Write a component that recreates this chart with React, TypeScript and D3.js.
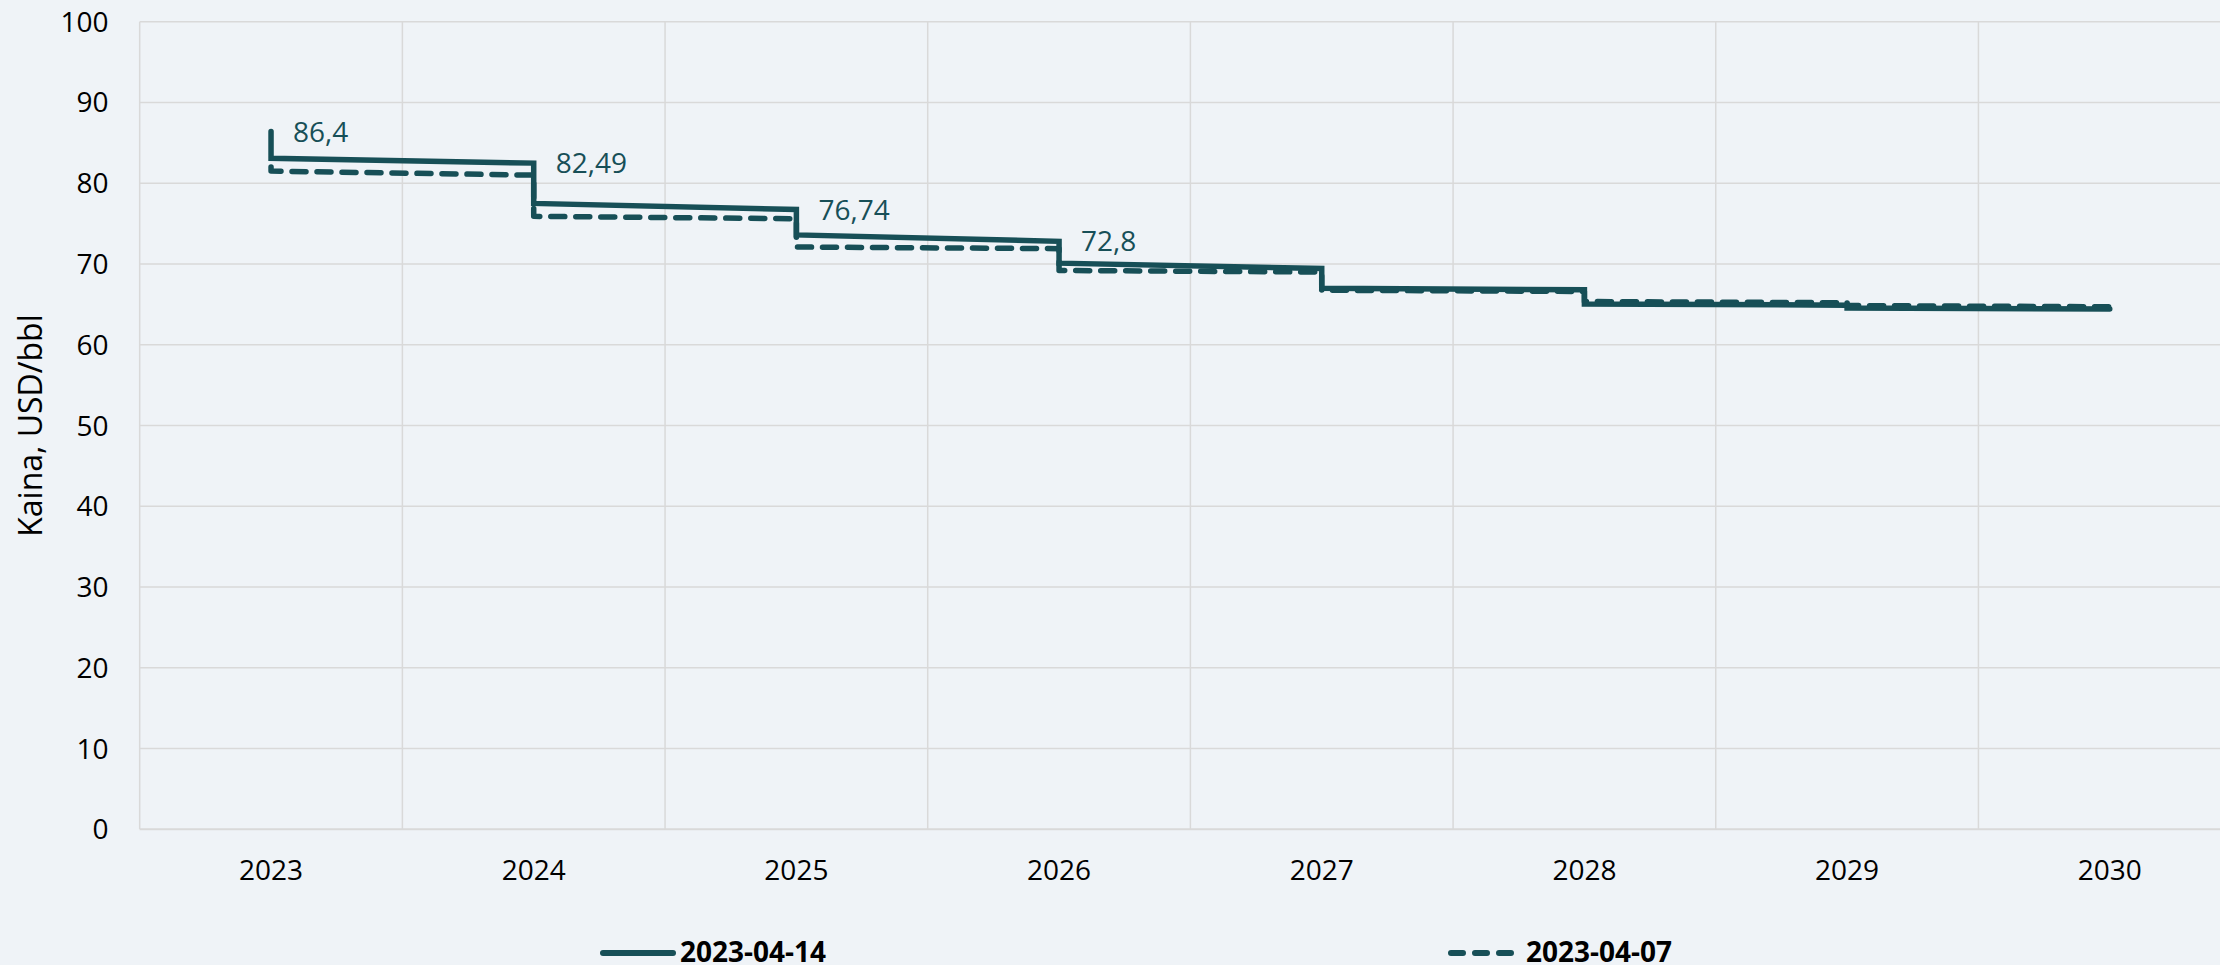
import React from "react";
import * as d3 from "d3";

const years = [2023, 2024, 2025, 2026, 2027, 2028, 2029, 2030];
// 2023-04-14 curve: value reached at each year mark (before the step) and value right after the step
const solidAtYear = [86.4, 82.49, 76.74, 72.8, 69.45, 66.8, 64.9, 64.43];
const solidAfterStep = [83.1, 77.5, 73.6, 70.1, 67.0, 65.05, 64.55];
// 2023-04-07 curve
const dashedAtYear = [82.0, 81.0, 75.6, 71.9, 69.0, 66.6, 65.2, 64.7];
const dashedAfterStep = [81.5, 75.9, 72.1, 69.2, 66.75, 65.35, 64.85];
const labelledYears = [2023, 2024, 2025, 2026];
const yTicks = [0, 10, 20, 30, 40, 50, 60, 70, 80, 90, 100];
const seriesNames = ["2023-04-14", "2023-04-07"];

const W = 2220;
const H = 965;
const BG = "#EFF3F7";
const TEAL = "#174F57";
const GRID = "#D9D9D9";
const FONT = "'Open Sans', 'Noto Sans', sans-serif";

function buildPoints(atYear: number[], after: number[]) {
  const pts: [number, number][] = [];
  years.forEach((yr, i) => {
    pts.push([yr, atYear[i]]);
    if (i < after.length) pts.push([yr, after[i]]);
  });
  return pts;
}

export default function App() {
  const x = d3.scaleLinear().domain([2022.5, 2030.5]).range([139.7, 2241.1]);
  const y = d3.scaleLinear().domain([0, 100]).range([829.3, 21.7]);
  const line = d3
    .line<[number, number]>()
    .x((d) => x(d[0]))
    .y((d) => y(d[1]));

  const solidPts = buildPoints(solidAtYear, solidAfterStep);
  const dashedPts = buildPoints(dashedAtYear, dashedAfterStep);
  const gridX = d3.range(2022.5, 2031, 1);

  return (
    <svg
      width={W}
      height={H}
      style={{ position: "absolute", left: 0, top: 0, display: "block" }}
      fontFamily={FONT}
    >
      <rect x={0} y={0} width={W} height={H} fill={BG} />
      {yTicks.map((t) => (
        <line
          key={"h" + t}
          x1={x(2022.5)}
          x2={W}
          y1={y(t)}
          y2={y(t)}
          stroke={GRID}
          strokeWidth={t === 0 ? 2 : 1.5}
        />
      ))}
      {gridX.map((g) => (
        <line
          key={"v" + g}
          x1={x(g)}
          x2={x(g)}
          y1={y(100)}
          y2={y(0)}
          stroke={GRID}
          strokeWidth={1.5}
        />
      ))}
      {yTicks.map((t) => (
        <text key={"yt" + t} x={108.5} y={y(t) + 10} textAnchor="end" fontSize={28} fill="#000">
          {t}
        </text>
      ))}
      {years.map((yr) => (
        <text key={"xl" + yr} x={x(yr)} y={880} textAnchor="middle" fontSize={28} fill="#000">
          {yr}
        </text>
      ))}
      <text
        transform={`translate(42,${(y(0) + y(100)) / 2}) rotate(-90)`}
        textAnchor="middle"
        fontSize={32}
        fill="#000"
      >
        Kaina, USD/bbl
      </text>
      <path
        d={line(dashedPts) || ""}
        fill="none"
        stroke={TEAL}
        strokeWidth={5.5}
        strokeDasharray="14 11"
        strokeLinecap="round"
        strokeLinejoin="round"
      />
      <path
        d={line(solidPts) || ""}
        fill="none"
        stroke={TEAL}
        strokeWidth={5.5}
        strokeLinecap="round"
        strokeLinejoin="miter"
      />
      {labelledYears.map((yr) => {
        const i = years.indexOf(yr);
        const v = solidAtYear[i];
        return (
          <text key={"dl" + yr} x={x(yr) + 22} y={y(v) + 10} fontSize={28} fill={TEAL}>
            {String(v).replace(".", ",")}
          </text>
        );
      })}
      <line x1={603} x2={673} y1={953} y2={953} stroke={TEAL} strokeWidth={6} strokeLinecap="round" />
      <text x={680} y={962} fontSize={28} fontWeight="bold" fill="#000">
        {seriesNames[0]}
      </text>
      <line
        x1={1451}
        x2={1511}
        y1={953}
        y2={953}
        stroke={TEAL}
        strokeWidth={6}
        strokeDasharray="12 12"
        strokeLinecap="round"
      />
      <text x={1526} y={962} fontSize={28} fontWeight="bold" fill="#000">
        {seriesNames[1]}
      </text>
    </svg>
  );
}
